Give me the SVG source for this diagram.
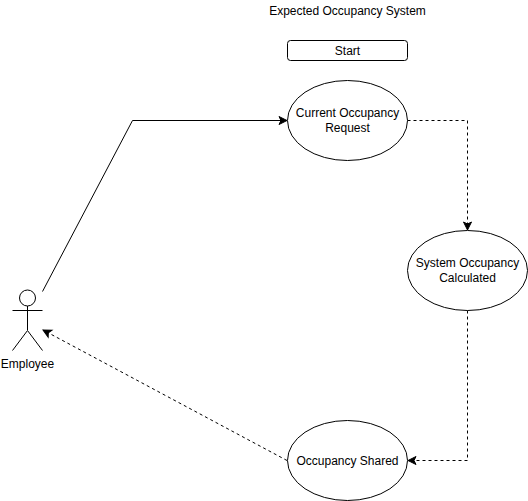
<svg xmlns="http://www.w3.org/2000/svg" width="528" height="501" viewBox="0 0 528 501">
<style>
.s{fill:#fff;stroke:#000;stroke-width:1}
.c{fill:none;stroke:#000;stroke-width:1}
.d{stroke-dasharray:3 3}
text{font-family:"Liberation Sans",Arial,sans-serif;font-size:12px;fill:#000;text-anchor:middle}
</style>
<defs>
<marker id="a" markerUnits="userSpaceOnUse" markerWidth="10" markerHeight="10" refX="8" refY="4" orient="auto" overflow="visible"><path d="M0 0L8 4L0 8L2 4Z" fill="#000" stroke="#000" stroke-width="1"/></marker>
</defs>
<rect width="528" height="501" fill="#fff"/>
<g id="connectors">
<path class="c" d="M42.500 291.500L132.500 120.500H287" marker-end="url(#a)"/>
<path class="c d" d="M407.500 120.500H467.500V230" marker-end="url(#a)"/>
<path class="c d" d="M467.500 310.500V460.500H408" marker-end="url(#a)"/>
<path class="c d" d="M287 460.500L43 330" marker-end="url(#a)"/>
</g>
<g id="title"><text x="347.500" y="15">Expected Occupancy System</text></g>
<g id="start"><rect class="s" x="287.500" y="40.500" width="120" height="20" rx="3" ry="3"/><text x="347.500" y="55">Start</text></g>
<g id="current"><ellipse class="s" cx="347.500" cy="120.500" rx="60" ry="40"/><text x="347.500" y="117">Current Occupancy</text><text x="347.500" y="132">Request</text></g>
<g id="system"><ellipse class="s" cx="467.500" cy="270.500" rx="60" ry="40"/><text x="467.500" y="267">System Occupancy</text><text x="467.500" y="282">Calculated</text></g>
<g id="shared"><ellipse class="s" cx="347.500" cy="460.500" rx="60" ry="40"/><text x="347.500" y="465">Occupancy Shared</text></g>
<g id="employee"><circle class="s" cx="27.500" cy="298" r="8"/><path class="c" d="M27.500 306V330M12.500 310.500H42.500M12.500 350.500L27.500 330.500L42.500 350.500"/><text x="27.500" y="368">Employee</text></g>
</svg>
